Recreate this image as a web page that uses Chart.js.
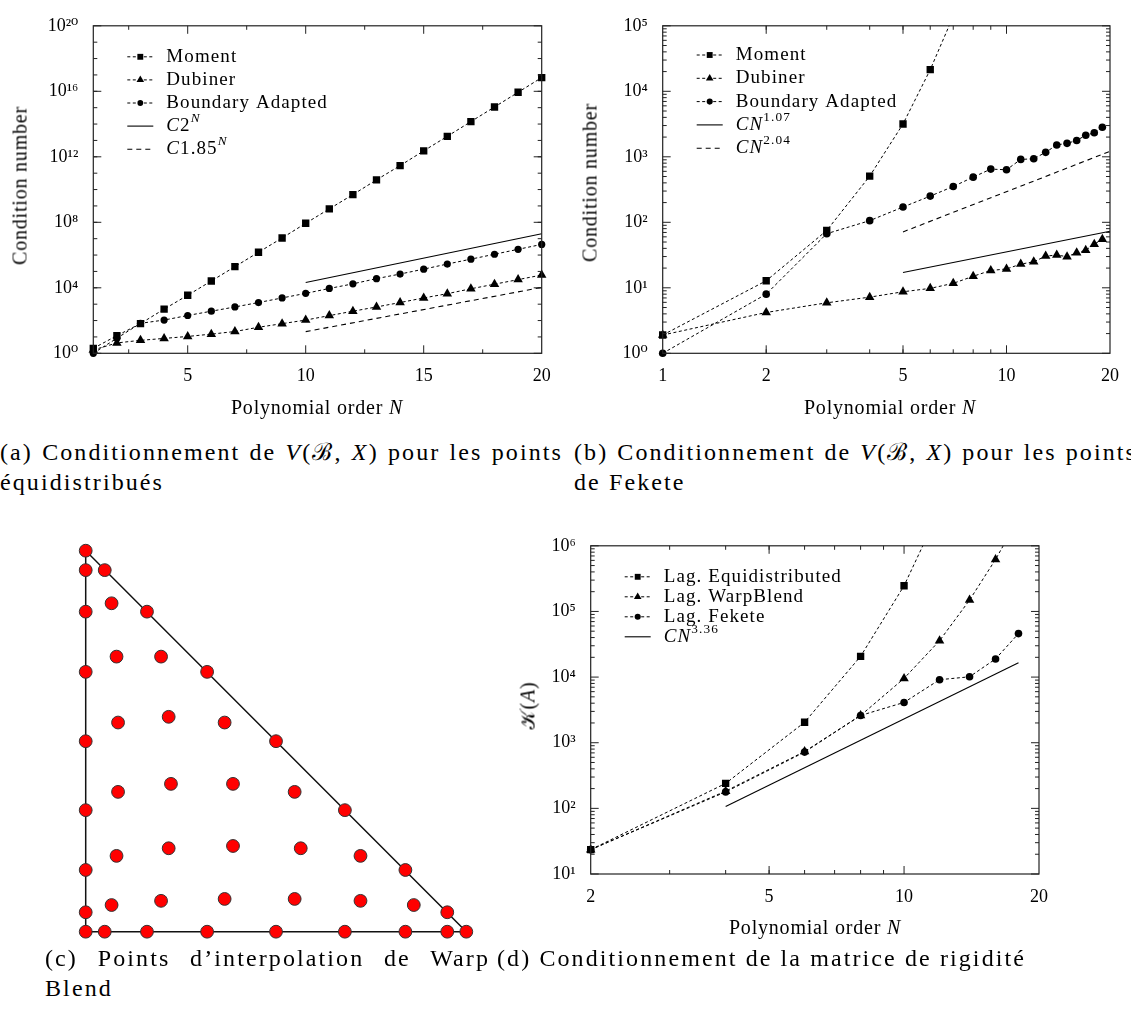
<!DOCTYPE html>
<html>
<head>
<meta charset="utf-8">
<script src="https://cdn.jsdelivr.net/npm/chart.js@4.4.1/dist/chart.umd.min.js"></script>
<style>
  html, body { margin: 0; padding: 0; background: #fff; }
  body { position: relative; width: 1131px; height: 1019px; overflow: hidden;
         font-family: "Liberation Serif", "DejaVu Serif", serif; color: #000; }
  canvas { position: absolute; }
  .t { position: absolute; white-space: nowrap; font-size: 20px; letter-spacing: 0.8px; text-align: center; }
  .rot { transform: rotate(-90deg); }
  .cap { position: absolute; font-size: 24px; letter-spacing: 2.1px; line-height: 30px; white-space: nowrap; }
  .just { text-align: justify; text-align-last: justify; }
</style>
</head>
<body>
<canvas id="ca" width="570" height="400" style="left:0;top:0"></canvas>
<canvas id="cb" width="561" height="400" style="left:570px;top:0"></canvas>
<canvas id="cc" width="430" height="420" style="left:60px;top:530px"></canvas>
<canvas id="cd" width="611" height="400" style="left:520px;top:520px"></canvas>

<div class="t" style="left:217px;top:396px;width:200px">Polynomial order <i>N</i></div>
<div class="t rot" style="left:-80px;top:174px;width:200px">Condition number</div>
<div class="t" style="left:790px;top:396px;width:200px">Polynomial order <i>N</i></div>
<div class="t rot" style="left:490px;top:171px;width:200px">Condition number</div>
<div class="t" style="left:715px;top:916px;width:200px">Polynomial order <i>N</i></div>
<div class="t rot" style="left:478px;top:694px;width:100px">𝒦(<i>A</i>)</div>

<div class="cap just" style="left:0;top:437px;width:563px">(a) Conditionnement de <i>V</i>(ℬ, <i>X</i>) pour les points</div>
<div class="cap" style="left:0;top:467px">équidistribués</div>
<div class="cap just" style="left:574px;top:437px;width:563px">(b) Conditionnement de <i>V</i>(ℬ, <i>X</i>) pour les points</div>
<div class="cap" style="left:574px;top:467px">de Fekete</div>
<div class="cap just" style="left:45px;top:943px;width:445px">(c) Points d’interpolation de Warp</div>
<div class="cap" style="left:45px;top:973px">Blend</div>
<div class="cap" style="left:497px;top:943px">(d) Conditionnement de la matrice de rigidité</div>

<script>
// ---------- (a) equidistributed points ----------
const nA = [1, 2, 3, 4, 5, 6, 7, 8, 9, 10, 11, 12, 13, 14, 15, 16, 17, 18, 19, 20];
const momentA = [2, 12, 65, 500, 3.5e3, 2.6e4, 1.95e5, 1.48e6, 1.1e7, 8.7e7, 6.6e8, 4.9e9, 3.9e10,
                 2.9e11, 2.3e12, 1.78e13, 1.41e14, 1.1e15, 8.7e15, 6.9e16];
const dubinerA = [1.6, 4.3, 6.2, 8.1, 10.7, 14.8, 21.4, 38.9, 64.6, 107, 200, 372, 676, 1260, 2400,
                  4370, 8710, 1.66e4, 3.16e4, 6.03e4];
const boundaryA = [1, 8.3, 68, 107, 204, 372, 676, 1260, 2400, 4570, 9120, 1.74e4, 3.63e4, 6.92e4,
                   1.38e5, 2.82e5, 5.62e5, 1.12e6, 2.24e6, 4.47e6];
const fitNA = [10, 20];
const fit2A = [2.1e4, 2.0e7];      // C 2^N
const fit185A = [21, 1.05e4];      // C 1.85^N
const xLabelsA = [5, 10, 15, 20];
const xMinorA = [2.5, 7.5, 12.5, 17.5];
const yLabelsA = [1, 1e4, 1e8, 1e12, 1e16, 1e20];

// ---------- (b) Fekete points ----------
const nB = [1, 2, 3, 4, 5, 6, 7, 8, 9, 10, 11, 12, 13, 14, 15, 16, 17, 18, 19];
const momentB = [1.9, 12.8, 75, 506, 3170, 21400, 1.4e5];
const dubinerB = [1.9, 4.2, 5.9, 7.2, 8.7, 9.8, 11.7, 15, 18.4, 19.4, 23, 24.9, 30.5, 31.6, 29.9,
                  34.2, 37.4, 46.4, 55];
const boundaryB = [1, 8.0, 67, 106, 171, 251, 352, 489, 649, 634, 912, 933, 1170, 1517, 1604, 1778,
                   2130, 2333, 2826];
const fitNB = [5, 20];
const fit107B = [17.1, 73];       // C N^1.07
const fit204B = [71.3, 1210];     // C N^2.04
const xLabelsB = [1, 2, 5, 10, 20];
const yLabelsB = [1, 10, 100, 1e3, 1e4, 1e5];

// ---------- (c) Warp & Blend nodes (N = 8) ----------
const warpU = [0, 0.050, 0.161, 0.319, 0.5, 0.681, 0.840, 0.950, 1,
               0, 0, 0, 0, 0, 0, 0, 0,
               0.950, 0.840, 0.681, 0.5, 0.319, 0.161, 0.050,
               0.068, 0.198, 0.365, 0.549, 0.722, 0.862,
               0.081, 0.218, 0.387, 0.565, 0.722,
               0.085, 0.224, 0.387, 0.549,
               0.085, 0.218, 0.365,
               0.081, 0.198,
               0.068];
const warpV = [0, 0, 0, 0, 0, 0, 0, 0, 0,
               0.051, 0.162, 0.319, 0.5, 0.682, 0.840, 0.949, 1,
               0.051, 0.162, 0.319, 0.5, 0.682, 0.840, 0.949,
               0.070, 0.081, 0.086, 0.086, 0.081, 0.070,
               0.199, 0.219, 0.225, 0.219, 0.199,
               0.367, 0.388, 0.388, 0.367,
               0.549, 0.564, 0.549,
               0.722, 0.722,
               0.862];
const triU = [0, 1, 0, 0];
const triV = [0, 0, 1, 0];

// ---------- (d) stiffness matrix ----------
const nD = [2, 4, 6, 8, 10, 12, 14, 16, 18];
const equiD = [23.5, 240, 2050, 20700, 2.46e5, 3.5e6];
const warpD = [23.5, 183, 735, 2600, 9550, 35800, 1.49e5, 6.2e5, 2.6e6];
const feketeD = [23.5, 178, 720, 2600, 4110, 9120, 10100, 18900, 46000];
const fitND = [4, 18];
const fit336D = [107, 16500];     // C N^3.36
const xLabelsD = [2, 5, 10, 20];
const yLabelsD = [10, 100, 1e3, 1e4, 1e5, 1e6];

const FONT = '"Liberation Serif", "DejaVu Serif", serif';
const SUP = '⁰¹²³⁴⁵⁶⁷⁸⁹';
const pow10 = v => '10' + String(Math.round(Math.log10(v))).split('').map(d => SUP[d]).join('');

function pts(xs, ys) { return ys.map((y, i) => ({ x: xs[i], y: y })); }
function decades(lo, hi) { const r = []; for (let e = lo; e <= hi; e++) r.push(Math.pow(10, e)); return r; }
function logMinor(lo, hi, xmax) {
  const r = [];
  for (let e = lo; e < hi; e++) for (let m = 2; m <= 9; m++) {
    const v = m * Math.pow(10, e);
    if (v < xmax) r.push(v);
  }
  return r;
}

function series(label, xs, ys, marker, r) {
  return { label, data: pts(xs, ys), borderColor: '#000', backgroundColor: '#000', borderWidth: 1,
           borderDash: [3, 2.5], pointStyle: marker, pointRadius: r, pointBorderWidth: 0,
           pointHoverRadius: r, clip: { left: 10, right: 10, top: 0, bottom: 10 } };
}
function fit(label, rich, xs, ys, dash) {
  return { label, rich, data: pts(xs, ys), borderColor: '#000', borderWidth: 1.1, borderDash: dash,
           pointRadius: 0, clip: { left: 10, right: 10, top: 0, bottom: 10 } };
}

function drawRich(ctx, segs, x, y, size) {
  for (const [t, s] of segs) {
    const fs = s.includes('s') ? size * 0.7 : size;
    ctx.font = (s.includes('i') ? 'italic ' : '') + fs + 'px ' + FONT;
    ctx.fillText(t, x, s.includes('s') ? y - size * 0.4 : y);
    x += ctx.measureText(t).width;
  }
}

// frame, inward ticks on all four sides, and a gnuplot-like key
const decor = {
  id: 'decor',
  afterDatasetsDraw(chart, args, o) {
    if (!o.frame) return;
    const { ctx, chartArea: a } = chart;
    const xs = chart.scales.x, ys = chart.scales.y;
    ctx.save();
    ctx.strokeStyle = '#222';
    ctx.lineWidth = 1.2;
    ctx.setLineDash([]);
    ctx.strokeRect(a.left, a.top, a.right - a.left, a.bottom - a.top);
    const mark = (scale, vals, len, horiz) => vals.forEach(v => {
      const p = scale.getPixelForValue(v);
      ctx.beginPath();
      if (horiz) {
        ctx.moveTo(p, a.bottom); ctx.lineTo(p, a.bottom - len);
        ctx.moveTo(p, a.top); ctx.lineTo(p, a.top + len);
      } else {
        ctx.moveTo(a.left, p); ctx.lineTo(a.left + len, p);
        ctx.moveTo(a.right, p); ctx.lineTo(a.right - len, p);
      }
      ctx.stroke();
    });
    ctx.lineWidth = 1;
    mark(xs, o.xMajor, 8, true);
    mark(xs, o.xMinor, 4, true);
    mark(ys, o.yMajor, 8, false);
    mark(ys, o.yMinor, 4, false);

    const L = o.legend;
    ctx.textBaseline = 'middle';
    ctx.fillStyle = '#000';
    ctx.letterSpacing = '1.1px';
    chart.data.datasets.forEach((ds, k) => {
      const y = a.top + L.y0 + k * L.dy;
      const x0 = a.left + 34, x1 = a.left + 60;
      ctx.strokeStyle = '#000';
      ctx.lineWidth = ds.borderWidth;
      ctx.setLineDash(ds.borderDash || []);
      ctx.beginPath(); ctx.moveTo(x0, y); ctx.lineTo(x1, y); ctx.stroke();
      if (ds.pointRadius) {
        Chart.helpers.drawPoint(ctx, { pointStyle: ds.pointStyle, radius: ds.pointRadius * 0.8,
                                       rotation: 0, borderWidth: 0 }, (x0 + x1) / 2, y);
      }
      drawRich(ctx, ds.rich || [[ds.label, '']], a.left + 73, y, 19);
    });
    ctx.restore();
  }
};
Chart.register(decor);

function logChart(id, box, datasets, xType, xr, yr, xLab, yLab, decorOpts) {
  return new Chart(document.getElementById(id), {
    type: 'line',
    data: { datasets },
    options: {
      responsive: false, animation: false, devicePixelRatio: 1,
      layout: { padding: { left: 0, top: box.top, right: box.right, bottom: 0 } },
      plugins: { legend: { display: false }, tooltip: { enabled: false }, decor: decorOpts },
      scales: {
        x: {
          type: xType, min: xr[0], max: xr[1],
          afterFit: s => { s.height = box.bottom; },
          afterBuildTicks: s => { s.ticks = xLab.map(v => ({ value: v })); },
          grid: { display: false, drawTicks: false }, border: { display: false },
          ticks: { color: '#000', font: { family: FONT, size: 18 }, padding: 12,
                   maxRotation: 0, autoSkip: false, callback: v => String(v) }
        },
        y: {
          type: 'logarithmic', min: yr[0], max: yr[1],
          afterFit: s => { s.width = box.left; },
          afterBuildTicks: s => { s.ticks = yLab.map(v => ({ value: v })); },
          grid: { display: false, drawTicks: false }, border: { display: false },
          ticks: { color: '#000', font: { family: FONT, size: 18 }, padding: 15,
                   autoSkip: false, callback: v => pow10(v) }
        }
      }
    }
  });
}

// (a)
logChart('ca', { left: 93.3, top: 18.3, right: 28.3, bottom: 46.7 }, [
  series('Moment', nA, momentA, 'rect', 5.2),
  series('Dubiner', nA, dubinerA, 'triangle', 5.5),
  series('Boundary Adapted', nA, boundaryA, 'circle', 3.6),
  fit('C2^N', [['C', 'i'], ['2', ''], ['N', 'si']], fitNA, fit2A, []),
  fit('C1.85^N', [['C', 'i'], ['1.85', ''], ['N', 'si']], fitNA, fit185A, [5, 4])
], 'linear', [1, 20], [1, 1e20], xLabelsA, yLabelsA,
  { frame: true, xMajor: [5, 10, 15], xMinor: xMinorA, yMajor: yLabelsA, yMinor: decades(1, 19),
    legend: { y0: 31, dy: 23.1 } });

// (b)
logChart('cb', { left: 92.7, top: 13.5, right: 14.3, bottom: 46.7 }, [
  series('Moment', nB, momentB, 'rect', 5.2),
  series('Dubiner', nB, dubinerB, 'triangle', 5.5),
  series('Boundary Adapted', nB, boundaryB, 'circle', 3.8),
  fit('CN^1.07', [['CN', 'i'], ['1.07', 's']], fitNB, fit107B, []),
  fit('CN^2.04', [['CN', 'i'], ['2.04', 's']], fitNB, fit204B, [5, 4])
], 'logarithmic', [1, 20], [1, 1e5], xLabelsB, yLabelsB,
  { frame: true, xMajor: [2, 5, 10], xMinor: logMinor(0, 1, 10), yMajor: yLabelsB,
    yMinor: logMinor(0, 5, 1e6), legend: { y0: 29.2, dy: 23.3 } });

// (d)
logChart('cd', { left: 70.7, top: 18.3, right: 92, bottom: 46 }, [
  series('Lag. Equidistributed', nD, equiD, 'rect', 5.2),
  series('Lag. WarpBlend', nD, warpD, 'triangle', 5.5),
  series('Lag. Fekete', nD, feketeD, 'circle', 3.8),
  fit('CN^3.36', [['CN', 'i'], ['3.36', 's']], fitND, fit336D, [])
], 'logarithmic', [2, 20], [10, 1e6], xLabelsD, yLabelsD,
  { frame: true, xMajor: [5, 10], xMinor: logMinor(0, 1, 10).filter(v => v > 2), yMajor: yLabelsD,
    yMinor: logMinor(1, 6, 1e7), legend: { y0: 31, dy: 20 } });

// (c)
new Chart(document.getElementById('cc'), {
  type: 'scatter',
  data: {
    datasets: [
      { data: pts(warpU, warpV), pointRadius: 6.4, pointHoverRadius: 6.4, backgroundColor: '#ff0000',
        borderColor: '#333', borderWidth: 1, clip: false, order: 1 },
      { type: 'line', data: pts(triU, triV), showLine: true, pointRadius: 0, borderColor: '#111',
        borderWidth: 1.5, clip: false, order: 2 }
    ]
  },
  options: {
    responsive: false, animation: false, devicePixelRatio: 1,
    layout: { padding: { left: 25.7, top: 20.7, right: 23.7, bottom: 18.3 } },
    plugins: { legend: { display: false }, tooltip: { enabled: false } },
    scales: {
      x: { type: 'linear', min: 0, max: 1, display: false },
      y: { type: 'linear', min: 0, max: 1, display: false }
    }
  }
});
</script>
</body>
</html>
